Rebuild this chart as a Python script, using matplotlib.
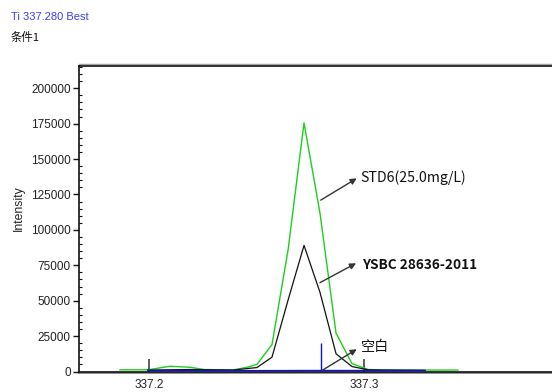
import matplotlib
matplotlib.use("Agg")
import matplotlib.pyplot as plt
from matplotlib.ticker import MultipleLocator

# ---------------- data ----------------
std6_wl = [337.1865, 337.1995, 337.2098, 337.2191, 337.2256, 337.2391, 337.2456,
           337.2502, 337.2572, 337.2647, 337.2721, 337.2795, 337.2870, 337.2944,
           337.3019, 337.3093, 337.3167, 337.3284, 337.3437]
std6_int = [1200, 1200, 3700, 3000, 1400, 1100, 3000,
            5000, 19000, 86000, 175500, 112000, 27000, 5600,
            1400, 1100, 1000, 1000, 1000]

sample_wl = [337.1995, 337.2191, 337.2391, 337.2502, 337.2572, 337.2647, 337.2721,
             337.2795, 337.2870, 337.2944, 337.3019, 337.3093, 337.3284]
sample_int = [1000, 1400, 1000, 2800, 10100, 50500, 89000,
              56000, 12500, 3500, 1200, 1000, 800]

blank_wl = [337.1995, 337.2191, 337.2391, 337.2502, 337.2721, 337.2870, 337.3019, 337.3284]
blank_int = [700, 700, 700, 600, 700, 700, 700, 700]

line_wl = 337.280          # analytical line marker
marker_height = 20000

xticks = [337.2, 337.3]
xtick_labels = ["337.2", "337.3"]
yticks = list(range(0, 200001, 25000))

title_line = "Ti 337.280 Best"
subtitle = "条件1"
labels = ["STD6(25.0mg/L)", "YSBC 28636-2011", "空白"]

# ---------------- figure ----------------
W, H = 552, 392
fig = plt.figure(figsize=(W / 100, H / 100), dpi=100)
ax = fig.add_axes([79 / W, 1 - 371.5 / H, 1 - 79 / W, (371.5 - 65.5) / H])

ax.plot(std6_wl, std6_int, color="#1ccf1c", lw=1.0, zorder=3)
ax.plot(sample_wl, sample_int, color="#111111", lw=0.9, zorder=4)
ax.plot(blank_wl, blank_int, color="#1010d0", lw=1.0, zorder=5)
ax.vlines(line_wl, 0, marker_height, color="#1010d0", lw=1.0, zorder=5)

ax.set_xlim(337.16744, 337.38744)
ax.set_ylim(0, 216000)

# spines
ax.spines["right"].set_visible(False)
for s in ("left", "top", "bottom"):
    ax.spines[s].set_color("#111111")
    ax.spines[s].set_linewidth(1.2)
ax.plot([0, 1], [-0.004, -0.004], transform=ax.transAxes, color="#909090", lw=1.4,
        clip_on=False, zorder=1)
ax.plot([0, 1], [1.004, 1.004], transform=ax.transAxes, color="#a0a0a0", lw=1.0,
        clip_on=False, zorder=1)

# ticks
ax.set_xticks(xticks)
ax.set_xticklabels(xtick_labels)
ax.tick_params(axis="x", direction="in", length=9.5, width=1.2, color="#444444",
               pad=5.5, labelsize=8.5, labelcolor="#222222")
xt = ax.xaxis.get_major_ticks()
xt[0].tick1line.set_color("#777777")
xt[1].tick1line.set_color("#111111")
ax.set_yticks(yticks)
ax.yaxis.set_minor_locator(MultipleLocator(5000))
ax.tick_params(axis="y", which="major", direction="out", length=4, width=1,
               color="#111111", pad=2, labelsize=8.5, labelcolor="#222222")
ax.tick_params(axis="y", which="minor", direction="in", length=2.5, width=0.8,
               color="#111111")
for lab in ax.get_xticklabels() + ax.get_yticklabels():
    lab.set_fontfamily("Liberation Sans")

ax.set_ylabel("Intensity", fontsize=8.8, family="Liberation Sans", color="#222222")
ax.yaxis.set_label_coords(-(79 - 25) / (W - 79), 1 - (208 - 65.5) / (371.5 - 65.5))

# annotations (arrow tail near the curve, head at the label)
arrow_kw = dict(arrowstyle="-|>", color="#333333", lw=1.0, mutation_scale=9,
                shrinkA=0, shrinkB=0)
heads = [(337.2966, 136300), (337.2963, 76400), (337.2966, 15700)]
tails = [(337.2799, 121000), (337.2795, 62700), (337.2803, 560)]
text_pos = [(337.2984, 136500), (337.2989, 75200), (337.2986, 17500)]
weights = ["normal", "bold", "normal"]
sizes = [10.2, 9.8, 10.2]
for lab, hd, tl, tp, w, fs in zip(labels, heads, tails, text_pos, weights, sizes):
    ax.annotate("", xy=hd, xytext=tl, arrowprops=arrow_kw, zorder=6)
    ax.text(tp[0], tp[1], lab, fontsize=fs, fontweight=w, va="center", ha="left",
            family=["Noto Sans CJK SC", "DejaVu Sans"], color="#111111", zorder=6)

# header texts
fig.text(11 / W, 1 - 17.5 / H, title_line, color="#3b3bff", fontsize=8,
         family="Liberation Sans", va="center", ha="left")
fig.text(11 / W, 1 - 37 / H, subtitle, color="#111111", fontsize=8.2,
         family=["Noto Sans CJK SC", "DejaVu Sans"], va="center", ha="left")

fig.savefig("out.png", dpi=100, facecolor="white")
